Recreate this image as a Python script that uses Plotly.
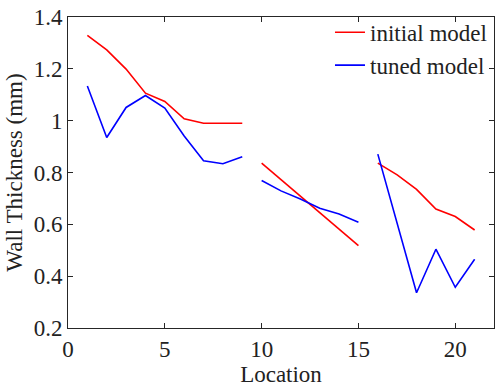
import plotly.graph_objects as go

location = [1, 2, 3, 4, 5, 6, 7, 8, 9, None,
            10, 11, 12, 13, 14, 15, None,
            16, 17, 18, 19, 20, 21]
initial_model = [1.329, 1.273, 1.199, 1.106, 1.074, 1.007, 0.990, 0.990, 0.990, None,
                 0.836, 0.772, 0.709, 0.645, 0.582, 0.518, None,
                 0.836, 0.791, 0.735, 0.659, 0.630, 0.578]
tuned_model = [1.134, 0.935, 1.051, 1.097, 1.049, 0.941, 0.845, 0.834, 0.861, None,
               0.769, 0.729, 0.698, 0.662, 0.640, 0.608, None,
               0.871, 0.604, 0.336, 0.504, 0.357, 0.465]
x_ticks = [0, 5, 10, 15, 20]
y_ticks = [0.2, 0.4, 0.6, 0.8, 1.0, 1.2, 1.4]
y_tick_text = ["0.2", "0.4", "0.6", "0.8", "1", "1.2", "1.4"]

font = dict(family="Liberation Serif, Times New Roman, serif", size=23, color="#222")

fig = go.Figure()
fig.add_trace(go.Scatter(x=location, y=initial_model, mode="lines", name="initial model",
                         line=dict(color="#ff0000", width=1.6), connectgaps=False))
fig.add_trace(go.Scatter(x=location, y=tuned_model, mode="lines", name="tuned model",
                         line=dict(color="#0000ff", width=1.6), connectgaps=False))

axis_common = dict(showgrid=False, zeroline=False, showline=True, linecolor="#262626",
                   linewidth=1, mirror="ticks", ticks="inside", ticklen=5,
                   tickcolor="#262626", tickfont=font, automargin=False)
fig.update_xaxes(range=[0, 22], tickvals=x_ticks, ticklabelstandoff=0,
                 title=dict(text="Location", font=font, standoff=0),
                 **axis_common)
fig.update_yaxes(range=[0.2, 1.4], tickvals=y_ticks, ticktext=y_tick_text, ticklabelstandoff=0,
                 title=dict(text="Wall Thickness (mm)", font=font, standoff=4), **axis_common)

fig.update_layout(
    width=495, height=387,
    margin=dict(l=68, r=1, t=17, b=59),
    paper_bgcolor="white", plot_bgcolor="white",
    font=font,
    showlegend=True,
    legend=dict(x=0.615, y=1.02, xanchor="left", yanchor="top", bgcolor="rgba(0,0,0,0)",
                font=font, tracegroupgap=0),
)
fig.write_html("out.html", config={"displayModeBar": False},
               post_script="document.body.style.margin='0';document.body.style.padding='0';")
